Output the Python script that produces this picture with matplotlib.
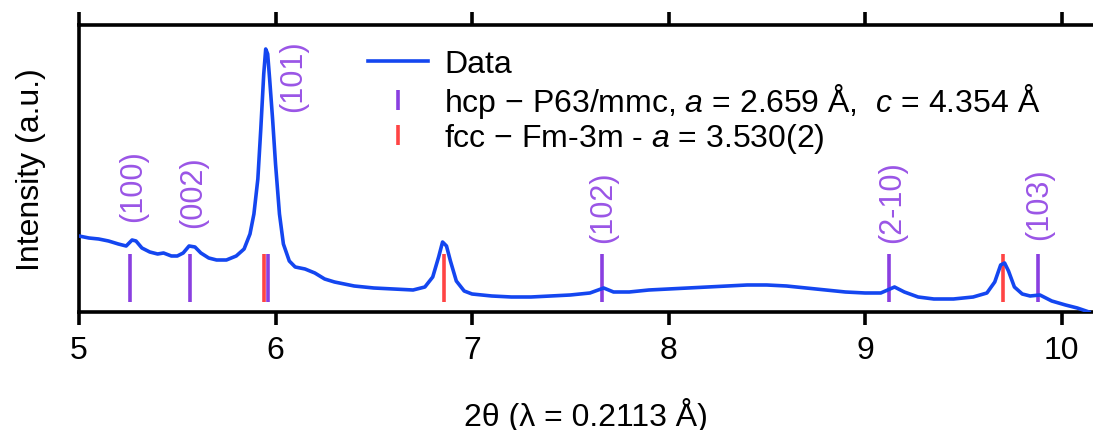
import matplotlib
matplotlib.use("Agg")
import matplotlib.pyplot as plt
from matplotlib.lines import Line2D

plt.rcParams['font.family'] = ['Liberation Sans', 'DejaVu Sans']
plt.rcParams['mathtext.fontset'] = 'custom'
plt.rcParams['mathtext.it'] = 'Liberation Sans:italic'
plt.rcParams['mathtext.rm'] = 'Liberation Sans'

# measured pattern (2theta in degrees, intensity in arbitrary units)
two_theta = [5.00, 5.05, 5.10, 5.15, 5.20, 5.24, 5.27, 5.29, 5.32, 5.36,
             5.40, 5.43, 5.47, 5.50, 5.53, 5.56, 5.59, 5.62, 5.66, 5.70,
             5.75, 5.80, 5.84, 5.87, 5.89, 5.91, 5.925, 5.94, 5.95, 5.96,
             5.97, 5.985, 6.00, 6.02, 6.04, 6.07, 6.10, 6.15, 6.20, 6.25,
             6.30, 6.40, 6.50, 6.60, 6.70, 6.76, 6.80, 6.83, 6.85, 6.87,
             6.89, 6.92, 6.96, 7.00, 7.10, 7.20, 7.30, 7.40, 7.50, 7.60,
             7.67, 7.72, 7.80, 7.90, 8.00, 8.10, 8.20, 8.30, 8.40, 8.50,
             8.60, 8.70, 8.80, 8.90, 9.00, 9.08, 9.15, 9.20, 9.27, 9.35,
             9.45, 9.55, 9.62, 9.66, 9.69, 9.71, 9.73, 9.76, 9.80, 9.84,
             9.89, 9.95, 10.02, 10.08, 10.14]
intensity = [76, 74, 73, 71, 68, 66, 72, 71, 64, 60,
             58, 59, 56, 56, 59, 66, 65, 59, 54, 52,
             52, 56, 63, 78, 98, 133, 183, 238, 263, 258,
             233, 193, 148, 98, 68, 51, 45, 43, 39, 33,
             30, 26, 24, 23, 22, 25, 35, 55, 70, 66,
             51, 31, 21, 18, 16, 15, 15, 16, 17, 19,
             24, 20, 20, 22, 23, 24, 25, 26, 27, 27,
             26, 24, 22, 20, 19, 19, 25, 20, 15, 13,
             13, 15, 19, 30, 47, 49, 41, 25, 18, 16,
             17, 11, 7, 4, 0]

# reference reflections
hcp_pos = [5.26, 5.565, 5.96, 7.66, 9.12, 9.88]
hcp_labels = ['(100)', '(002)', '(101)', '(102)', '(2-10)', '(103)']
hcp_label_x = [5.275, 5.58, 6.09, 7.665, 9.14, 9.885]
hcp_label_y = [91, 85, 201, 70, 70, 73]
fcc_pos = [5.94, 6.855, 9.70]

blue = '#1446f0'
purple = '#8a3fe0'
red = '#ff4444'
label_purple = '#9a55e6'

fig = plt.figure(figsize=(10.93, 4.31), dpi=100)
ax = fig.add_axes([0.0723, 0.2738, 0.9277, 0.6659])

ax.plot(two_theta, intensity, color=blue, lw=2.6, label='Data', zorder=3)
ax.vlines(fcc_pos, 10, 58, color=red, lw=2.6, zorder=2)
ax.vlines(hcp_pos, 10, 58, color=purple, lw=2.6, zorder=2)

for x, y, t in zip(hcp_label_x, hcp_label_y, hcp_labels):
    ax.text(x, y, t, rotation=90, color=label_purple, fontsize=22,
            ha='center', va='bottom')

ax.set_xlim(5, 10.16)
ax.set_ylim(0, 287)
ax.set_xticks([5, 6, 7, 8, 9, 10])
ax.set_yticks([])
ax.tick_params(axis='x', direction='out', length=9.5, width=2.6,
               top=True, labelsize=23, pad=7)
for s in ['left', 'top', 'bottom']:
    ax.spines[s].set_linewidth(2.6)
ax.spines['right'].set_visible(False)

ax.set_xlabel('2θ (λ = 0.2113 Å)', fontsize=23, labelpad=23)
ax.set_ylabel('Intensity (a.u.)', fontsize=23, labelpad=24)

handles = [Line2D([], [], color=blue, lw=2.6),
           Line2D([], [], color=purple, marker='|', ls='None', ms=14, mew=2.6),
           Line2D([], [], color=red, marker='|', ls='None', ms=14, mew=2.6)]
labels = ['Data',
          r'hcp − P63/mmc, $a$ = 2.659 Å,  $c$ = 4.354 Å',
          r'fcc − Fm-3m - $a$ = 3.530(2)']
ax.legend(handles, labels, loc='upper left', bbox_to_anchor=(0.272, 0.96),
          frameon=False, fontsize=23, handlelength=1.9, handletextpad=0.5,
          labelspacing=0.05, borderaxespad=0)

fig.savefig('out.png', dpi=100)
